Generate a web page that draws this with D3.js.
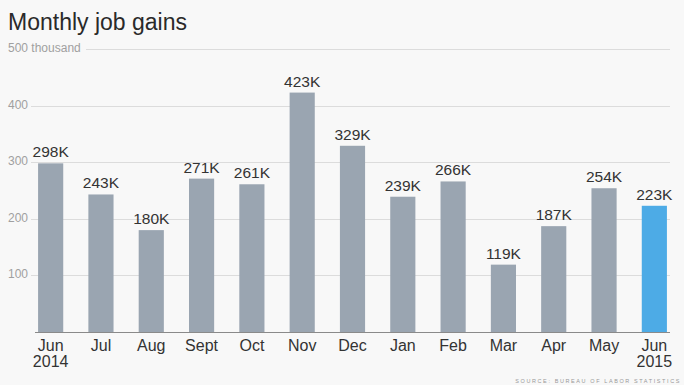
<!DOCTYPE html>
<html>
<head>
<meta charset="utf-8">
<script src="https://cdn.jsdelivr.net/npm/d3@7"></script>
<style>
  body { margin: 0; background: #f8f8f8; }
  svg { display: block; font-family: 'Liberation Sans', Arial, sans-serif; }
</style>
</head>
<body>
<div id="chart"></div>
<script>
var months = ['Jun', 'Jul', 'Aug', 'Sept', 'Oct', 'Nov', 'Dec', 'Jan', 'Feb', 'Mar', 'Apr', 'May', 'Jun']
var years = ['2014', '', '', '', '', '', '', '', '', '', '', '', '2015']
var gains = [298, 243, 180, 271, 261, 423, 329, 239, 266, 119, 187, 254, 223]
var ticks = [100, 200, 300, 400, 500]

var width = 684
var height = 385

var svg = d3.select('#chart')
  .append('svg')
  .attr('width', width)
  .attr('height', height)

svg.append('rect')
  .attr('width', width)
  .attr('height', height)
  .attr('fill', '#f8f8f8')

var idx = d3.range(gains.length)

var x = d3.scaleBand()
  .domain(idx)
  .range([25.5, 679.5])
  .paddingInner(0.5)
  .paddingOuter(0.25)

var y = d3.scaleLinear()
  .domain([0, 500])
  .range([332, 49])

// gridlines and tick labels
var grid = svg.append('g')
grid.selectAll('line')
  .data(ticks)
  .enter()
  .append('line')
  .attr('x1', function (d) { return d === 500 ? 86 : 31 })
  .attr('x2', 670)
  .attr('y1', function (d) { return Math.round(y(d)) + 0.5 })
  .attr('y2', function (d) { return Math.round(y(d)) + 0.5 })
  .attr('stroke', '#dcdcdc')
  .attr('stroke-width', 1)

grid.selectAll('text')
  .data(ticks)
  .enter()
  .append('text')
  .attr('x', 8)
  .attr('y', function (d) { return y(d) + 3 })
  .attr('font-size', 12)
  .attr('fill', '#a0a0a0')
  .text(function (d) { return d === 500 ? '500 thousand' : d })

// bars
svg.selectAll('.bar')
  .data(idx)
  .enter()
  .append('rect')
  .attr('class', 'bar')
  .attr('x', function (i) { return x(i) })
  .attr('y', function (i) { return y(gains[i]) })
  .attr('width', x.bandwidth())
  .attr('height', function (i) { return y(0) - y(gains[i]) })
  .attr('fill', function (i) { return i === gains.length - 1 ? '#4dabe6' : '#9aa5b1' })

svg.selectAll('.val')
  .data(idx)
  .enter()
  .append('text')
  .attr('class', 'val')
  .attr('x', function (i) { return x(i) + x.bandwidth() / 2 })
  .attr('y', function (i) { return y(gains[i]) - 6 })
  .attr('text-anchor', 'middle')
  .attr('font-size', 15.5)
  .attr('fill', '#333')
  .text(function (i) { return gains[i] + 'K' })

// baseline
svg.append('line')
  .attr('x1', 35)
  .attr('x2', 670)
  .attr('y1', y(0) + 0.5)
  .attr('y2', y(0) + 0.5)
  .attr('stroke', '#8a8a8a')
  .attr('stroke-width', 1)

// month labels
var lab = svg.selectAll('.month')
  .data(idx)
  .enter()
  .append('text')
  .attr('class', 'month')
  .attr('text-anchor', 'middle')
  .attr('font-size', 16)
  .attr('fill', '#333')
lab.append('tspan')
  .attr('x', function (i) { return x(i) + x.bandwidth() / 2 })
  .attr('y', 351)
  .text(function (i) { return months[i] })
lab.append('tspan')
  .attr('x', function (i) { return x(i) + x.bandwidth() / 2 })
  .attr('y', 367)
  .text(function (i) { return years[i] })

svg.append('text')
  .attr('x', 8)
  .attr('y', 30)
  .attr('font-size', 23)
  .attr('fill', '#2a2a2a')
  .text('Monthly job gains')

svg.append('text')
  .attr('x', 681)
  .attr('y', 383)
  .attr('text-anchor', 'end')
  .attr('font-size', 5.5)
  .attr('letter-spacing', 1.6)
  .attr('fill', '#999')
  .text('SOURCE: BUREAU OF LABOR STATISTICS')
</script>
</body>
</html>
